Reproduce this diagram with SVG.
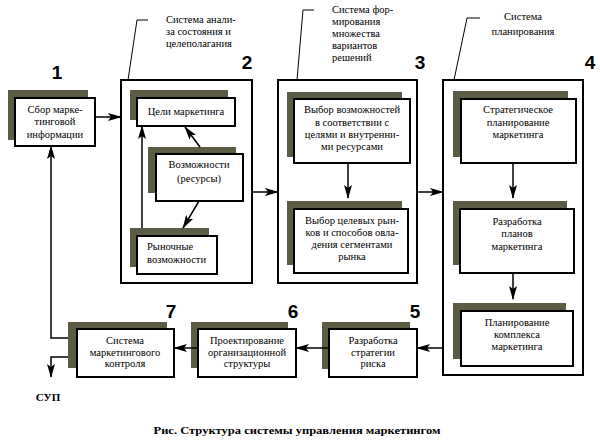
<svg xmlns="http://www.w3.org/2000/svg" width="600" height="444" viewBox="0 0 600 444">
<defs>
<marker id="ah" viewBox="0 0 14 8" refX="13" refY="4" markerWidth="14" markerHeight="8" markerUnits="userSpaceOnUse" orient="auto">
<path d="M0,0 L14,4 L0,8 L3,4 Z" fill="#000"/>
</marker>
<style>
.sh{fill:#5c5c45;stroke:none}
.bx{fill:#fff;stroke:#000;stroke-width:2}
.ct{fill:none;stroke:#000;stroke-width:2}
.t{font-family:"Liberation Serif","DejaVu Serif","Times New Roman",serif;font-size:10.5px;fill:#000;text-anchor:middle}
.tl{font-family:"Liberation Serif","DejaVu Serif","Times New Roman",serif;font-size:10.5px;fill:#000}
.n{font-family:"Liberation Sans",Arial,sans-serif;font-size:19px;font-weight:bold;fill:#000;text-anchor:middle}
.c{fill:none;stroke:#000;stroke-width:1.5}
.cl{fill:none;stroke:#000;stroke-width:1}
.b{font-family:"Liberation Serif","DejaVu Serif","Times New Roman",serif;font-size:11px;font-weight:bold;fill:#000;text-anchor:middle}
</style>
</defs>
<rect width="600" height="444" fill="#fff"/>

<g id="node1">
<rect class="sh" x="8" y="90" width="80" height="50"/>
<rect class="bx" x="15" y="98" width="80" height="48"/>
<text class="t" x="55" y="113">Сбор марке-</text>
<text class="t" x="55" y="125">тинговой</text>
<text class="t" x="55" y="138">информации</text>
<text class="n" x="57" y="79">1</text>
</g>

<g id="system2">
<rect class="ct" x="121" y="80" width="131" height="203"/>
<text class="n" x="247" y="69">2</text>
<path class="cl" d="M128,80 L137,20 L148,20"/>
<text class="tl" x="166" y="23">Система анали-</text>
<text class="tl" x="166" y="35">за состояния и</text>
<text class="tl" x="166" y="47">целеполагания</text>
</g>
<g id="goals">
<rect class="sh" x="130" y="90" width="98" height="30"/>
<rect class="bx" x="137" y="98" width="98" height="28"/>
<text class="t" x="186" y="115">Цели маркетинга</text>
</g>
<g id="resources">
<rect class="sh" x="148" y="147" width="88" height="46"/>
<rect class="bx" x="156" y="154" width="87" height="47"/>
<text class="t" x="199" y="168">Возможности</text>
<text class="t" x="199" y="182">(ресурсы)</text>
</g>
<g id="market">
<rect class="sh" x="130" y="228" width="79" height="39"/>
<rect class="bx" x="137" y="236" width="80" height="38"/>
<text class="tl" x="147" y="250">Рыночные</text>
<text class="tl" x="147" y="263">возможности</text>
</g>

<g id="system3">
<rect class="ct" x="278" y="80" width="139" height="203"/>
<text class="n" x="420" y="69">3</text>
<path class="cl" d="M297,80 L303,10 L314,10"/>
<text class="tl" x="332" y="13">Система фор-</text>
<text class="tl" x="332" y="25">мирования</text>
<text class="tl" x="332" y="37">множества</text>
<text class="tl" x="332" y="49">вариантов</text>
<text class="tl" x="332" y="61">решений</text>
</g>
<g id="choice1">
<rect class="sh" x="287" y="92" width="115" height="65"/>
<rect class="bx" x="294" y="99" width="116" height="64"/>
<text class="t" x="352" y="113">Выбор возможностей</text>
<text class="t" x="352" y="126">в соответствии с</text>
<text class="t" x="352" y="138">целями и внутренни-</text>
<text class="t" x="352" y="150">ми ресурсами</text>
</g>
<g id="choice2">
<rect class="sh" x="287" y="201" width="115" height="64"/>
<rect class="bx" x="294" y="209" width="114" height="64"/>
<text class="t" x="352" y="224">Выбор целевых рын-</text>
<text class="t" x="352" y="236">ков и способов овла-</text>
<text class="t" x="352" y="248">дения сегментами</text>
<text class="t" x="352" y="260">рынка</text>
</g>

<g id="system4">
<rect class="ct" x="443" y="80" width="140" height="295"/>
<text class="n" x="590" y="69">4</text>
<path class="cl" d="M454,80 L467,18 L480,18"/>
<text class="t" x="523" y="20">Система</text>
<text class="t" x="523" y="35">планирования</text>
</g>
<g id="strategic">
<rect class="sh" x="453" y="91" width="115" height="66"/>
<rect class="bx" x="461" y="99" width="115" height="64"/>
<text class="t" x="518" y="113">Стратегическое</text>
<text class="t" x="518" y="126">планирование</text>
<text class="t" x="518" y="138">маркетинга</text>
</g>
<g id="plans">
<rect class="sh" x="453" y="201" width="114" height="64"/>
<rect class="bx" x="460" y="209" width="114" height="64"/>
<text class="t" x="517" y="225">Разработка</text>
<text class="t" x="517" y="237">планов</text>
<text class="t" x="517" y="250">маркетинга</text>
</g>
<g id="mix">
<rect class="sh" x="453" y="303" width="113" height="56"/>
<rect class="bx" x="461" y="311" width="112" height="55"/>
<text class="t" x="517" y="326">Планирование</text>
<text class="t" x="517" y="338">комплекса</text>
<text class="t" x="517" y="350">маркетинга</text>
</g>

<g id="node5">
<rect class="sh" x="322" y="322" width="88" height="47"/>
<rect class="bx" x="329" y="329" width="88" height="48"/>
<text class="t" x="373" y="344">Разработка</text>
<text class="t" x="373" y="356">стратегии</text>
<text class="t" x="373" y="367">риска</text>
<text class="n" x="415" y="318">5</text>
</g>
<g id="node6">
<rect class="sh" x="191" y="322" width="97" height="46"/>
<rect class="bx" x="198" y="329" width="98" height="48"/>
<text class="t" x="247" y="344">Проектирование</text>
<text class="t" x="247" y="356">организационной</text>
<text class="t" x="247" y="367">структуры</text>
<text class="n" x="293" y="318">6</text>
</g>
<g id="node7">
<rect class="sh" x="68" y="322" width="99" height="46"/>
<rect class="bx" x="77" y="329" width="97" height="48"/>
<text class="t" x="125" y="344">Система</text>
<text class="t" x="125" y="356">маркетингового</text>
<text class="t" x="125" y="367">контроля</text>
<text class="n" x="171" y="318">7</text>
</g>

<g id="connectors">
<path class="c" d="M95,117 L121,117" marker-end="url(#ah)"/>
<path class="c" d="M252,192 L278,192" marker-end="url(#ah)"/>
<path class="c" d="M417,192 L443,192" marker-end="url(#ah)"/>
<path class="c" d="M142,228 L142,126" marker-end="url(#ah)"/>
<path class="c" d="M200,147 L185,127" marker-end="url(#ah)"/>
<path class="c" d="M199,201 L183,228" marker-end="url(#ah)"/>
<path class="c" d="M348,163 L348,198" marker-end="url(#ah)"/>
<path class="c" d="M513,163 L513,198" marker-end="url(#ah)"/>
<path class="c" d="M513,273 L513,299" marker-end="url(#ah)"/>
<path class="c" d="M443,348 L417,348" marker-end="url(#ah)"/>
<path class="c" d="M329,348 L296,348" marker-end="url(#ah)"/>
<path class="c" d="M198,348 L174,348" marker-end="url(#ah)"/>
<path class="c" d="M68,338 L51,338 L51,146" marker-end="url(#ah)"/>
<path class="c" d="M68,357 L51,357 L51,377" marker-end="url(#ah)"/>
</g>

<text class="b" x="48" y="401">СУП</text>
<text class="b" x="297" y="434" textLength="287" lengthAdjust="spacingAndGlyphs">Рис. Структура системы управления маркетингом</text>
</svg>
